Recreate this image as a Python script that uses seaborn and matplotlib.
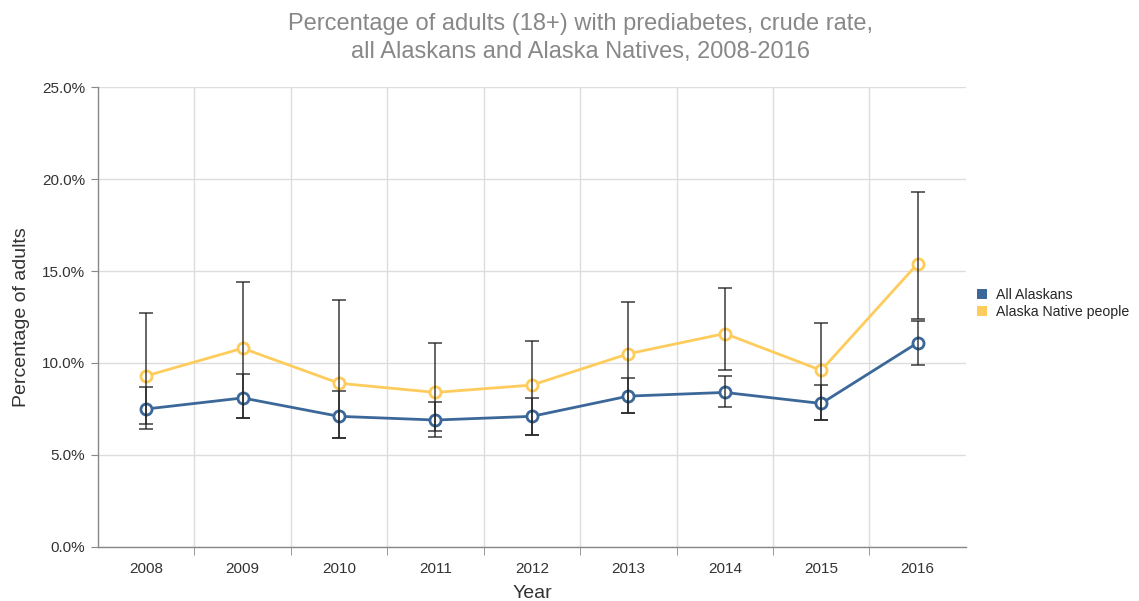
import numpy as np
import pandas as pd
import seaborn as sns
import matplotlib.pyplot as plt
from matplotlib.patches import Patch
from matplotlib.ticker import FuncFormatter, FixedLocator

years = ['2008', '2009', '2010', '2011', '2012', '2013', '2014', '2015', '2016']

# All Alaskans
all_rate = [7.5, 8.1, 7.1, 6.9, 7.1, 8.2, 8.4, 7.8, 11.1]
all_lo = [6.4, 7.0, 5.9, 6.0, 6.1, 7.3, 7.6, 6.9, 9.9]
all_hi = [8.7, 9.4, 8.5, 7.9, 8.1, 9.2, 9.3, 8.8, 12.3]

# Alaska Native people
an_rate = [9.3, 10.8, 8.9, 8.4, 8.8, 10.5, 11.6, 9.6, 15.4]
an_lo = [6.7, 7.0, 5.9, 6.3, 6.1, 7.3, 9.6, 6.9, 12.4]
an_hi = [12.7, 14.4, 13.4, 11.1, 11.2, 13.3, 14.1, 12.2, 19.3]

series = ['All Alaskans', 'Alaska Native people']
colors = ['#3b6899', '#fecc5c']

df = pd.DataFrame({
    'pos': list(range(len(years))) * 2,
    'rate': all_rate + an_rate,
    'lo': all_lo + an_lo,
    'hi': all_hi + an_hi,
    'group': [series[0]] * len(years) + [series[1]] * len(years),
})

sns.set_style('white')
plt.rcParams['font.family'] = ['Arial', 'Liberation Sans', 'DejaVu Sans']

fig = plt.figure(figsize=(11.39, 6.01), dpi=100)
ax = fig.add_axes([0.086, 0.0899, 0.762, 0.7653])

sns.lineplot(data=df, x='pos', y='rate', hue='group', palette=colors,
             hue_order=series, marker='o', markersize=8, markerfacecolor='white',
             markeredgewidth=2, linewidth=2, ax=ax, legend=False, zorder=3)
# marker edge colors follow line colors
for line, c in zip(ax.get_lines(), colors):
    line.set_markeredgecolor(c)

for g in series:
    d = df[df.group == g]
    ax.errorbar(d.pos, d.rate, yerr=[d.rate - d.lo, d.hi - d.rate], fmt='none',
                ecolor='#222222', alpha=0.75, elinewidth=1.3, capsize=5,
                capthick=1.3, zorder=4)

ax.set_xlim(-0.5, len(years) - 0.5)
ax.set_ylim(0, 25)
ax.set_xticks(range(len(years)))
ax.set_xticklabels(years)
ax.xaxis.set_minor_locator(FixedLocator(np.arange(0.5, len(years) - 0.5, 1)))
ax.set_yticks(np.arange(0, 26, 5))
ax.yaxis.set_major_formatter(FuncFormatter(lambda v, p: f'{v:.1f}%'))

ax.grid(True, axis='y', color='#dddddd', linewidth=1)
ax.grid(True, axis='x', which='minor', color='#dddddd', linewidth=1)
ax.grid(False, axis='x', which='major')
ax.set_axisbelow(True)

for s in ['top', 'right']:
    ax.spines[s].set_visible(False)
for s in ['left', 'bottom']:
    ax.spines[s].set_color('#888888')
    ax.spines[s].set_linewidth(1)

ax.tick_params(axis='both', which='major', labelsize=11, colors='#333333', length=0)
ax.tick_params(axis='x', which='major', pad=11)
ax.tick_params(axis='x', which='minor', length=6, color='#888888', bottom=True)
ax.tick_params(axis='y', length=5, color='#888888', left=True, pad=4)

ax.set_xlabel('Year', fontsize=14, color='#333333', labelpad=6)
ax.set_ylabel('Percentage of adults', fontsize=14, color='#333333', labelpad=9)

fig.suptitle('Percentage of adults (18+) with prediabetes, crude rate,\nall Alaskans and Alaska Natives, 2008-2016',
             x=0.51, y=0.978, fontsize=17, color='#888888', linespacing=1.35)

handles = [Patch(facecolor=c, edgecolor='none', label=s) for s, c in zip(series, colors)]
fig.legend(handles=handles, loc='center left', bbox_to_anchor=(0.847, 0.495),
           frameon=False, fontsize=10.2, handlelength=0.7, handleheight=0.7,
           handletextpad=0.6, labelspacing=0.2)

fig.savefig('out.png', dpi=100)
